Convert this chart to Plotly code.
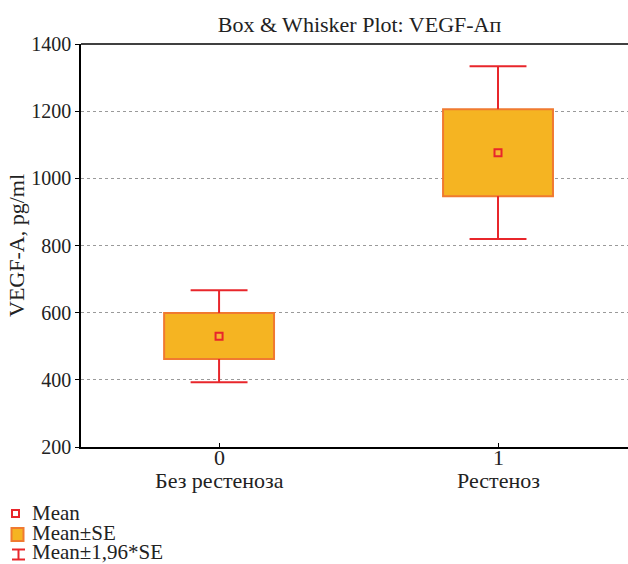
import plotly.graph_objects as go

# ---- data ----
categories = [0, 1]
category_names = ["Без рестеноза", "Рестеноз"]
means = [530, 1076]
se_low = [462, 947]
se_high = [599, 1206]
ci_low = [393, 819]
ci_high = [667, 1334]
y_ticks = [200, 400, 600, 800, 1000, 1200, 1400]

BOX_W = 0.394
CAP_HALF = 0.102
RED = "#E8262B"
ORANGE = "#F07A30"
FILL = "#F5B422"
FONT = "Liberation Serif"
TXT = "#222"

fig = go.Figure()

# whiskers (vertical parts + caps)
wx, wy = [], []
for c, lo, hi, slo, shi in zip(categories, ci_low, ci_high, se_low, se_high):
    wx += [c, c, None, c, c, None, c - CAP_HALF, c + CAP_HALF, None, c - CAP_HALF, c + CAP_HALF, None]
    wy += [shi, hi, None, slo, lo, None, hi, hi, None, lo, lo, None]
fig.add_trace(go.Scatter(x=wx, y=wy, mode="lines", line=dict(color=RED, width=2),
                         showlegend=False, hoverinfo="skip"))

# SE boxes
fig.add_trace(go.Bar(x=categories, base=se_low,
                     y=[h - l for h, l in zip(se_high, se_low)],
                     width=BOX_W, marker=dict(color=FILL, line=dict(color=ORANGE, width=2)),
                     showlegend=False))

# means
fig.add_trace(go.Scatter(x=categories, y=means, mode="markers",
                         marker=dict(symbol="square", size=7, color="#F7B733",
                                     line=dict(color=RED, width=2)),
                         showlegend=False))

# ---- layout helpers (pixel -> paper) ----
L, R, T, B = 81, 628, 44, 447
def px(x):
    return (x - L) / (R - L)
def py(y):
    return (B - y) / (B - T)

# x tick labels: number and category name
for c, n in zip(categories, category_names):
    fig.add_annotation(x=c, xref="x", yref="paper", y=py(458), text=str(c), showarrow=False,
                       xanchor="center", yanchor="middle",
                       font=dict(family=FONT, size=22, color=TXT))
    fig.add_annotation(x=c, xref="x", yref="paper", y=py(481), text=n, showarrow=False,
                       xanchor="center", yanchor="middle",
                       font=dict(family=FONT, size=22, color=TXT))

# manual legend
legend_items = ["Mean", "Mean±SE", "Mean±1,96*SE"]
legend_y = [513, 533, 552]
for txt, yy in zip(legend_items, legend_y):
    fig.add_annotation(xref="paper", yref="paper", x=px(31), y=py(yy), text=txt,
                       showarrow=False, xanchor="left", yanchor="middle", borderpad=0,
                       font=dict(family=FONT, size=21, color=TXT))
shapes = []
shapes.append(dict(type="rect", xref="paper", yref="paper", x0=px(12), x1=px(19),
                   y0=py(517), y1=py(510), line=dict(color=RED, width=2), fillcolor="white"))
shapes.append(dict(type="rect", xref="paper", yref="paper", x0=px(11.5), x1=px(23.5),
                   y0=py(541), y1=py(528), line=dict(color=ORANGE, width=2), fillcolor=FILL))
for (x0, y0, x1, y1) in [(12, 549.5, 25, 549.5), (12, 559.5, 25, 559.5), (18.5, 549.5, 18.5, 559.5)]:
    shapes.append(dict(type="line", xref="paper", yref="paper", x0=px(x0), x1=px(x1),
                       y0=py(y0), y1=py(y1), line=dict(color=RED, width=2)))
shapes.append(dict(type="line", xref="paper", yref="paper", x0=0, x1=1, y0=1, y1=1,
                   line=dict(color="black", width=1.5)))
fig.update_layout(shapes=shapes)

fig.update_layout(
    width=628, height=564,
    margin=dict(l=L, r=628 - R, t=T, b=564 - B, autoexpand=False),
    paper_bgcolor="white", plot_bgcolor="white",
    font=dict(family=FONT, size=20, color=TXT),
    title=dict(text="Box & Whisker Plot: VEGF-Aп", x=359.5 / 628, xanchor="center",
               y=1 - 24 / 564, yanchor="middle", font=dict(family=FONT, size=22, color=TXT)),
    showlegend=False,
    xaxis=dict(range=[-0.495, 1.466], tickmode="array", tickvals=categories,
               showticklabels=False, automargin=False,
               showline=True, linecolor="black", linewidth=1.5, showgrid=False,
               ticks="inside", ticklen=4, tickcolor="black", zeroline=False),
    yaxis=dict(range=[200, 1400], tickmode="array", tickvals=y_ticks, automargin=False,
               showline=True, linecolor="black", linewidth=1.5,
               ticks="outside", ticklen=4, tickcolor="black",
               showgrid=True, gridcolor="#9a9a9a", griddash="3px,3px", gridwidth=1,
               zeroline=False,
               title=dict(text="VEGF-A, pg/ml", font=dict(family=FONT, size=22, color=TXT), standoff=1),
               tickfont=dict(family=FONT, size=20, color=TXT)),
)

fig.write_html("out.html", config={"displayModeBar": False},
               post_script="document.body.style.margin='0';document.body.style.overflow='hidden';")
